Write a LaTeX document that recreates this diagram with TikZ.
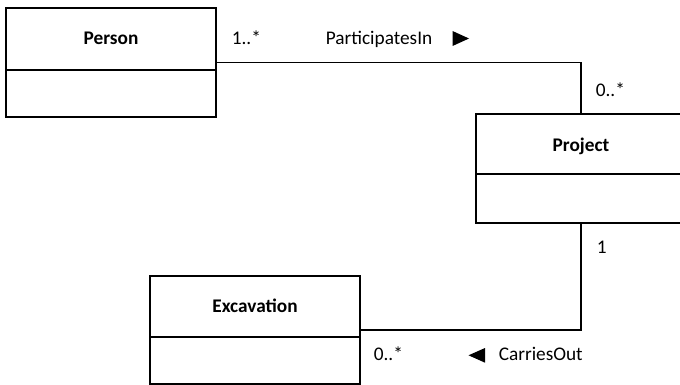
\documentclass[tikz,border=0pt]{standalone}
\usepackage{fontspec}
\setmainfont{Carlito}
\begin{document}
\begin{tikzpicture}[x=1pt,y=-1pt,
  line width=1.5pt,
  cls/.style={draw, rectangle, minimum width=210pt, inner sep=0pt, outer sep=0pt},
  clsname/.style={font=\fontsize{19.3}{23}\selectfont\bfseries, inner sep=0pt, anchor=base},
  lbl/.style={font=\fontsize{19.3}{23}\selectfont, inner sep=0pt, anchor=base west},
  assoc/.style={line width=1.5pt}]
\useasboundingbox (0,0) rectangle (680,385);
\clip (0,0) rectangle (680,385);

% class boxes (whole outline)
\node[cls, minimum height=109pt] (person) at (111,62.5) {};
\node[cls, minimum height=109pt] (project) at (581,168.5) {};
\node[cls, minimum height=108pt] (excavation) at (255,330) {};

% compartment dividers
\draw (person.west |- 0,70) -- (person.east |- 0,70);
\draw (project.west |- 0,174) -- (project.east |- 0,174);
\draw (excavation.west |- 0,337) -- (excavation.east |- 0,337);

% class names
\node[clsname] (personname) at (111,45) {Person};
\node[clsname] (projectname) at (581,151) {Project};
\node[clsname] (excavationname) at (255,312.7) {Excavation};

% associations
\draw[assoc] (person.east) -| (project.north);
\draw[assoc] (project.south) |- (excavation.east);

% association labels and multiplicities
\node[lbl] (m1) at (231,45) {1..*};
\node[lbl] (a1) at (325,45) {ParticipatesIn};
\node[lbl] (m2) at (595,97) {0..*};
\node[lbl] (m3) at (596,253) {1};
\node[lbl] (m4) at (373,360) {0..*};
\node[lbl] (a2) at (498,360) {CarriesOut};

% reading-direction triangles
\fill (452.5,31) -- (469,38.5) -- (452.5,46) -- cycle;
\fill (485,348) -- (468.5,355.3) -- (485,362.7) -- cycle;
\end{tikzpicture}
\end{document}
